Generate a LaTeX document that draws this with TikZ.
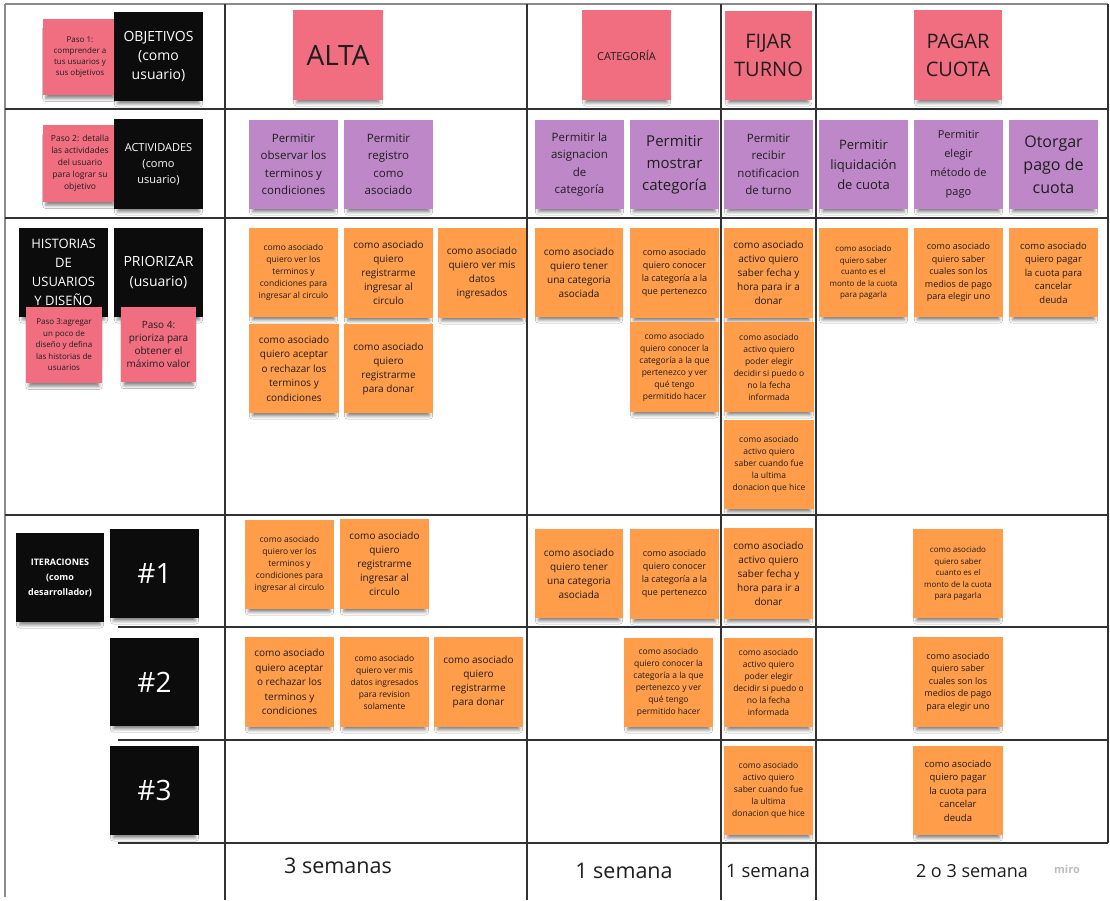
\documentclass[tikz,border=0pt]{standalone}
\usepackage{fontspec}
\setmainfont{Open Sans}
\usetikzlibrary{shadows.blur}
\definecolor{stpink}{RGB}{241,110,129}
\definecolor{stpurple}{RGB}{190,136,200}
\definecolor{storange}{RGB}{255,157,74}
\definecolor{stblack}{RGB}{12,12,12}
\definecolor{txt}{RGB}{30,30,30}
\definecolor{gridc}{RGB}{50,50,50}
\definecolor{bordc}{RGB}{140,140,140}
\definecolor{miroc}{RGB}{190,190,190}
\newcommand\fs[2]{\fontsize{#1}{#2}\selectfont}
\newcommand\stk[7]{\node[#1, minimum width={#5-#3}, minimum height={#6-#4}] (#2) at ({(#3+#5)/2},{(#4+#6)/2}) {#7};}
\tikzset{
  st/.style={inner sep=1pt, align=center, text=txt,
    blur shadow={shadow xshift=0pt, shadow yshift=-7pt, shadow scale=0.92, shadow blur radius=3.5pt, shadow opacity=50}},
  pk/.style={st, fill=stpink},
  pu/.style={st, fill=stpurple},
  og/.style={st, fill=storange},
  bk/.style={st, fill=stblack, text=white},
  gridline/.style={draw=gridc, line width=1.3pt},
  borderline/.style={draw=bordc, line width=1.5pt},
  foot/.style={inner sep=0pt, text=txt},
}
\begin{document}
\begin{tikzpicture}[x=1pt,y=-1pt]
\useasboundingbox (0,0) rectangle (1110,900);
\fill[white] (0,0) rectangle (1110,900);
% grid
\draw[borderline] (5,4) -- (1108,4);
\draw[borderline] (5,4) -- (5,897);
\draw[gridline] (5,109) -- (1108,109);
\draw[gridline] (5,218) -- (1108,218);
\draw[gridline] (5,515) -- (1108,515);
\draw[gridline] (118,627) -- (1108,627);
\draw[gridline] (118,740) -- (1108,740);
\draw[gridline] (118,843) -- (1108,843);
\draw[gridline] (225,4) -- (225,900);
\draw[gridline] (527,4) -- (527,900);
\draw[gridline] (721,4) -- (721,900);
\draw[gridline] (816,4) -- (816,900);
\draw[gridline] (1108,4) -- (1108,843);

% left column
\stk{pk, font=\fs{8}{11}}{p1}{43}{19}{117}{95}{Paso 1:\\comprender a\\tus usuarios y\\sus objetivos}
\stk{bk, font=\fs{14}{19}}{h1}{114}{12}{203}{101}{OBJETIVOS\\(como\\usuario)}
\stk{pk, font=\fs{8.5}{12}}{p2}{43}{125}{117}{202}{Paso 2: detalla\\las actividades\\del usuario\\para lograr su\\objetivo}
\stk{bk, font=\fs{11}{16}}{h2}{114}{119}{203}{209}{ACTIVIDADES\\(como\\usuario)}
\stk{bk, font=\fs{13}{19}}{h3}{19}{228}{108}{317}{HISTORIAS\\DE\\USUARIOS\\Y DISEÑO}
\stk{bk, font=\fs{14}{20}}{h4}{114}{228}{203}{317}{PRIORIZAR\\(usuario)}
\stk{pk, font=\fs{8}{11.5}}{p3}{26}{307}{102}{383}{Paso 3:agregar\\un poco de\\diseño y defina\\las historias de\\usuarios}
\stk{pk, font=\fs{10}{13}}{p4}{121}{307}{196}{382}{Paso 4:\\prioriza para\\obtener el\\máximo valor}
\stk{bk, font=\bfseries\fs{9}{15}}{h5}{16}{533}{104}{622}{ITERACIONES\\(como\\desarrollador)}
\stk{bk, font=\fs{28}{30}}{it1}{110}{529}{199}{618}{\#1}
\stk{bk, font=\fs{28}{30}}{it2}{110}{638}{199}{726}{\#2}
\stk{bk, font=\fs{28}{30}}{it3}{110}{746}{199}{835}{\#3}

% top headers
\stk{pk, font=\fs{28}{30}}{alta}{293}{10}{383}{100}{ALTA}
\stk{pk, font=\fs{11}{14}}{cat}{582}{10}{671}{100}{CATEGORÍA}
\stk{pk, font=\fs{20}{28}}{fijar}{725}{11}{812}{100}{FIJAR\\TURNO}
\stk{pk, font=\fs{20}{28}}{pagar}{914}{10}{1002}{100}{PAGAR\\CUOTA}

% activities
\stk{pu, font=\fs{11.5}{17.5}}{a1}{249}{120}{338}{209}{Permitir\\observar los\\terminos y\\condiciones}
\stk{pu, font=\fs{11.5}{17.5}}{a2}{344}{120}{433}{209}{Permitir\\registro\\como\\asociado}
\stk{pu, font=\fs{11.5}{17.5}}{a3}{535}{120}{624}{209}{Permitir la\\asignacion\\de\\categoría}
\stk{pu, font=\fs{15}{22}}{a4}{630}{120}{719}{209}{Permitir\\mostrar\\categoría}
\stk{pu, font=\fs{11.5}{17.5}}{a5}{724}{120}{813}{209}{Permitir\\recibir\\notificacion\\de turno}
\stk{pu, font=\fs{13}{20}}{a6}{819}{120}{908}{209}{Permitir\\liquidación\\de cuota}
\stk{pu, font=\fs{11}{19}}{a7}{914}{120}{1003}{209}{Permitir\\elegir\\método de\\pago}
\stk{pu, font=\fs{16}{23}}{a8}{1009}{120}{1098}{209}{Otorgar\\pago de\\cuota}

% stories
\stk{og, font=\fs{8.5}{12}}{o1}{249}{228}{338}{317}{como asociado\\quiero ver los\\terminos y\\condiciones para\\ingresar al circulo}
\stk{og, font=\fs{10}{14}}{o2}{344}{228}{433}{318}{como asociado\\quiero\\registrarme\\ingresar al\\circulo}
\stk{og, font=\fs{10}{14}}{o3}{438}{228}{526}{318}{como asociado\\quiero ver mis\\datos\\ingresados}
\stk{og, font=\fs{10}{14.5}}{o4}{249}{324}{339}{413}{como asociado\\quiero aceptar\\o rechazar los\\terminos y\\condiciones}
\stk{og, font=\fs{10}{14}}{o5}{344}{324}{433}{413}{como asociado\\quiero\\registrarme\\para donar}
\stk{og, font=\fs{10}{14}}{o6}{535}{228}{623}{317}{como asociado\\quiero tener\\una categoria\\asociada}
\stk{og, font=\fs{9}{13}}{o7}{630}{228}{719}{318}{como asociado\\quiero conocer\\la categoría a la\\que pertenezco}
\stk{og, font=\fs{8.5}{12}}{o8}{630}{322}{719}{412}{como asociado\\quiero conocer la\\categoría a la que\\pertenezco y ver\\qué tengo\\permitido hacer}
\stk{og, font=\fs{10}{14}}{o9}{724}{228}{813}{318}{como asociado\\activo quiero\\saber fecha y\\hora para ir a\\donar}
\stk{og, font=\fs{8.5}{12}}{o10}{724}{322}{814}{412}{como asociado\\activo quiero\\poder elegir\\decidir si puedo o\\no la fecha\\informada}
\stk{og, font=\fs{8.5}{12}}{o11}{724}{420}{814}{509}{como asociado\\activo quiero\\saber cuando fue\\la ultima\\donacion que hice}
\stk{og, font=\fs{8}{11.5}}{o12}{819}{228}{908}{317}{como asociado\\quiero saber\\cuanto es el\\monto de la cuota\\para pagarla}
\stk{og, font=\fs{9}{12.5}}{o13}{914}{228}{1003}{317}{como asociado\\quiero saber\\cuales son los\\medios de pago\\para elegir uno}
\stk{og, font=\fs{9.5}{13.5}}{o14}{1009}{228}{1098}{317}{como asociado\\quiero pagar\\la cuota para\\cancelar\\deuda}

% iteration 1
\stk{og, font=\fs{8.5}{12}}{i1}{245}{520}{334}{609}{como asociado\\quiero ver los\\terminos y\\condiciones para\\ingresar al circulo}
\stk{og, font=\fs{10}{14}}{i2}{340}{519}{429}{609}{como asociado\\quiero\\registrarme\\ingresar al\\circulo}
\stk{og, font=\fs{10}{14}}{i3}{535}{529}{623}{618}{como asociado\\quiero tener\\una categoria\\asociada}
\stk{og, font=\fs{9}{13}}{i4}{630}{529}{719}{619}{como asociado\\quiero conocer\\la categoría a la\\que pertenezco}
\stk{og, font=\fs{10}{14}}{i5}{724}{528}{813}{619}{como asociado\\activo quiero\\saber fecha y\\hora para ir a\\donar}
\stk{og, font=\fs{8}{11.5}}{i6}{913}{529}{1003}{618}{como asociado\\quiero saber\\cuanto es el\\monto de la cuota\\para pagarla}

% iteration 2
\stk{og, font=\fs{10}{14.5}}{j1}{245}{637}{334}{727}{como asociado\\quiero aceptar\\o rechazar los\\terminos y\\condiciones}
\stk{og, font=\fs{8.5}{12}}{j2}{340}{637}{429}{727}{como asociado\\quiero ver mis\\datos ingresados\\para revision\\solamente}
\stk{og, font=\fs{10}{14}}{j3}{434}{637}{523}{727}{como asociado\\quiero\\registrarme\\para donar}
\stk{og, font=\fs{8.5}{12}}{j4}{624}{638}{713}{727}{como asociado\\quiero conocer la\\categoría a la que\\pertenezco y ver\\qué tengo\\permitido hacer}
\stk{og, font=\fs{8.5}{12}}{j5}{724}{638}{813}{727}{como asociado\\activo quiero\\poder elegir\\decidir si puedo o\\no la fecha\\informada}
\stk{og, font=\fs{9}{12.5}}{j6}{913}{637}{1003}{727}{como asociado\\quiero saber\\cuales son los\\medios de pago\\para elegir uno}

% iteration 3
\stk{og, font=\fs{8.5}{12}}{k1}{724}{746}{813}{835}{como asociado\\activo quiero\\saber cuando fue\\la ultima\\donacion que hice}
\stk{og, font=\fs{9.5}{13.5}}{k2}{913}{746}{1003}{835}{como asociado\\quiero pagar\\la cuota para\\cancelar\\deuda}

% footer
\node[foot, font=\fs{21.5}{24}] (w1) at (338,866) {3 semanas};
\node[foot, font=\fs{21.5}{24}] (w2) at (624,871) {1 semana};
\node[foot, font=\fs{18.5}{20}] (w3) at (768,871) {1 semana};
\node[foot, font=\fs{18}{20}] (w4) at (972,871) {2 o 3 semana};
\node[foot, font=\bfseries\fs{11}{13}, text=miroc] (miro) at (1067,869) {miro};
\end{tikzpicture}
\end{document}
